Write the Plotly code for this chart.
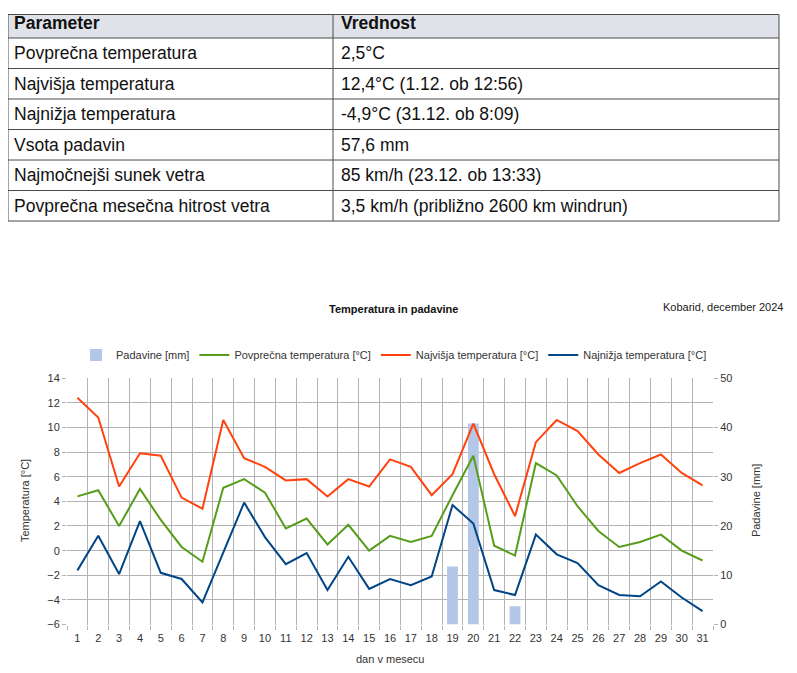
"""
Kobarid, december 2024 - tabela povzetka ter graf temperature in padavin
"""

import plotly.graph_objects as go

W, H = 797, 673
OFF_X = 8               # vodoravni odmik strani v brskalniku
OFF_Y, SC_Y = 14, 0.982  # navpični odmik in merilo, izmerjeno na posnetku

# Povzetek meseca
table_header = ["Parameter", "Vrednost"]
params = [
    "Povprečna temperatura",
    "Najvišja temperatura",
    "Najnižja temperatura",
    "Vsota padavin",
    "Najmočnejši sunek vetra",
    "Povprečna mesečna hitrost vetra",
]
values = [
    "2,5°C",
    "12,4°C (1.12. ob 12:56)",
    "-4,9°C (31.12. ob 8:09)",
    "57,6 mm",
    "85 km/h (23.12. ob 13:33)",
    "3,5 km/h (približno 2600 km windrun)",
]

# Dnevni podatki
days = [str(d) for d in range(1, 32)]
t_avg = [4.4, 4.9, 2.0, 5.0, 2.5, 0.3, -0.9, 5.1, 5.8, 4.7, 1.8, 2.6, 0.5, 2.1, 0.0, 1.2,
         0.7, 1.2, 4.5, 7.7, 0.4, -0.4, 7.1, 6.1, 3.6, 1.6, 0.3, 0.7, 1.3, 0.0, -0.8]
t_max = [12.4, 10.8, 5.2, 7.9, 7.7, 4.3, 3.4, 10.6, 7.5, 6.8, 5.7, 5.8, 4.4, 5.8, 5.2, 7.4,
         6.8, 4.5, 6.2, 10.3, 6.2, 2.8, 8.8, 10.6, 9.7, 7.8, 6.3, 7.1, 7.8, 6.3, 5.3]
t_min = [-1.6, 1.2, -1.9, 2.4, -1.8, -2.3, -4.2, -0.1, 3.9, 1.1, -1.1, -0.2, -3.2, -0.5, -3.1, -2.3,
         -2.8, -2.1, 3.7, 2.2, -3.2, -3.6, 1.3, -0.3, -1.0, -2.8, -3.6, -3.7, -2.5, -3.8, -4.9]
rain = [0] * 18 + [11.8, 40.8, 0, 3.7] + [0] * 9

# pozicija grafa v pikslih (koordinate slike)
PX_L, PX_R, PX_T, PX_B = 67, 713, 378, 624.5
# tabela: meje stolpcev in vrstic
TB_L, TB_MID, TB_R = 6, 333, 779
TB_LINES = [14.5, 38, 68.5, 99, 129.5, 160, 190.5, 221]


def px_x(x):
    return min(1.0, max(0.0, (x - OFF_X) / W))


def px_y(y):
    return min(1.0, max(0.0, 1 - (y - OFF_Y) / SC_Y / H))


fig = go.Figure()

fig.add_trace(
    go.Bar(
        x=days, y=rain, name="Padavine [mm]",
        marker=dict(color="#b4c7e7", line=dict(width=0)),
        width=0.52, yaxis="y",
    )
)
fig.add_trace(
    go.Scatter(x=days, y=t_avg, name="Povprečna temperatura [°C]", mode="lines",
               line=dict(color="#579d1c", width=2), yaxis="y2")
)
fig.add_trace(
    go.Scatter(x=days, y=t_max, name="Najvišja temperatura [°C]", mode="lines",
               line=dict(color="#ff420e", width=2), yaxis="y2")
)
fig.add_trace(
    go.Scatter(x=days, y=t_min, name="Najnižja temperatura [°C]", mode="lines",
               line=dict(color="#004586", width=2), yaxis="y2")
)

# --- tabela iz oblik in besedil
border = "#4a4a4a"
rows = [[f"<b>{h}</b>" for h in table_header]] + [list(r) for r in zip(params, values)]

shapes = [
    dict(type="rect", xref="paper", yref="paper",
         x0=px_x(TB_L), x1=px_x(TB_R), y0=px_y(TB_LINES[1]), y1=px_y(TB_LINES[0]),
         fillcolor="#dfe3e9", line=dict(width=0), layer="below"),
]
for y in TB_LINES:
    shapes.append(dict(type="line", xref="paper", yref="paper",
                       x0=px_x(TB_L), x1=px_x(TB_R), y0=px_y(y), y1=px_y(y),
                       line=dict(color=border, width=1)))
for x in (TB_L, TB_MID, TB_R):
    shapes.append(dict(type="line", xref="paper", yref="paper",
                       x0=px_x(x), x1=px_x(x), y0=px_y(TB_LINES[0]), y1=px_y(TB_LINES[-1]),
                       line=dict(color=border, width=1)))

table_font = dict(family="Liberation Sans", size=17.5, color="#111111")
annotations = []
for i, row in enumerate(rows):
    yc = (TB_LINES[i] + TB_LINES[i + 1]) / 2
    if i == 0:
        yc = 23
    for x, txt in zip((TB_L + 6, TB_MID + 6), row):
        annotations.append(dict(text=txt, x=px_x(x), y=px_y(yc), xref="paper", yref="paper",
                                xanchor="left", yanchor="middle", showarrow=False,
                                font=table_font))

label_font = dict(family="Liberation Sans", size=11, color="#333333")
labels = [
    dict(text="<b>Temperatura in padavine</b>", x=px_x(393), y=px_y(309),
         xanchor="center", yanchor="middle",
         font=dict(family="Liberation Sans", size=11, color="#111111")),
    dict(text="Kobarid, december 2024", x=px_x(785), y=px_y(307),
         xanchor="right", yanchor="middle",
         font=dict(family="Liberation Sans", size=11, color="#222222")),
    dict(text="Temperatura [°C]", x=px_x(25), y=px_y(501), textangle=-90,
         xanchor="center", yanchor="middle", font=label_font),
    dict(text="Padavine [mm]", x=px_x(756), y=px_y(501), textangle=-90,
         xanchor="center", yanchor="middle", font=label_font),
    dict(text="dan v mesecu", x=px_x(390), y=px_y(659),
         xanchor="center", yanchor="middle", font=label_font),
]
for a in labels:
    a.update(xref="paper", yref="paper", showarrow=False)
annotations += labels

grid_col = "#b3b3b3"
tick_font = dict(family="Liberation Sans", size=11, color="#333333")

fig.update_layout(
    width=W,
    height=H,
    margin=dict(l=0, r=0, t=0, b=0),
    paper_bgcolor="white",
    plot_bgcolor="white",
    font=dict(family="Liberation Sans", size=11, color="#333333"),
    xaxis=dict(
        type="category",
        domain=[px_x(PX_L), px_x(PX_R)],
        range=[-0.5, 30.5],
        tickson="boundaries",
        tickangle=0,
        showgrid=True,
        gridcolor=grid_col,
        gridwidth=1,
        ticks="outside",
        ticklen=4,
        tickcolor=grid_col,
        tickfont=tick_font,
        ticklabelstandoff=5,
        showline=False,
        zeroline=False,
        fixedrange=True,
    ),
    yaxis=dict(
        domain=[px_y(PX_B), px_y(PX_T)],
        side="right",
        range=[0, 50],
        dtick=10,
        showgrid=True,
        gridcolor=grid_col,
        minor=dict(dtick=5, showgrid=True, gridcolor=grid_col),
        zeroline=False,
        ticks="outside",
        ticklen=4,
        tickcolor=grid_col,
        tickfont=tick_font,
        fixedrange=True,
    ),
    yaxis2=dict(
        overlaying="y",
        side="left",
        range=[-6, 14],
        dtick=2,
        showgrid=False,
        zeroline=False,
        ticks="outside",
        ticklen=4,
        tickcolor=grid_col,
        tickfont=tick_font,
        fixedrange=True,
    ),
    bargap=0.48,
    showlegend=True,
    legend=dict(
        orientation="h",
        x=px_x(394),
        xanchor="center",
        y=px_y(355),
        yanchor="middle",
        font=dict(family="Liberation Sans", size=11, color="#333333"),
        itemwidth=30,
        traceorder="normal",
        bgcolor="rgba(0,0,0,0)",
    ),
    shapes=shapes,
    annotations=annotations,
)

fig.write_html("out.html")
